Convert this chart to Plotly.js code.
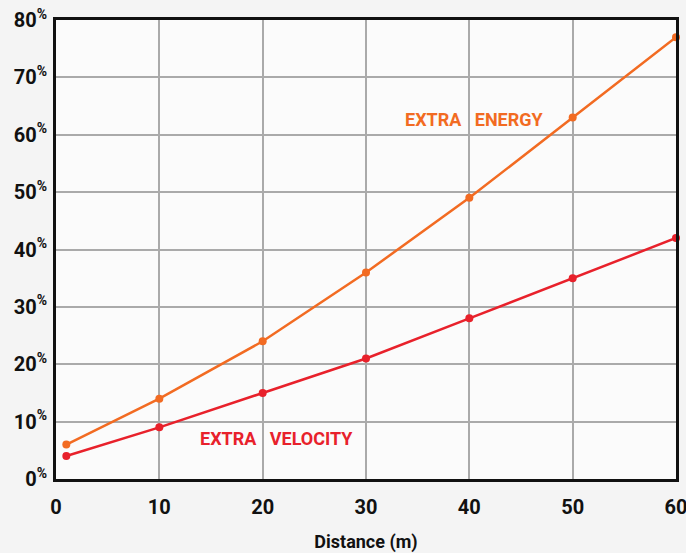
<!DOCTYPE html>
<html><head><meta charset="utf-8">
<script src="https://cdn.plot.ly/plotly-3.0.1.min.js"></script>
<style>html,body{margin:0;padding:0;background:#f4f4f4}</style>
</head><body><div id="chart" style="width:686px;height:553px"></div>
<script>
const distance = [1, 10, 20, 30, 40, 50, 60];
const extraEnergy = [6, 14, 24, 36, 49, 63, 77];
const extraVelocity = [4, 9, 15, 21, 28, 35, 42];
const yTickVals = [0, 10, 20, 30, 40, 50, 60, 70, 80];
const yTickText = yTickVals.map(v => v + '<sup>%</sup>');
const xTickVals = [0, 10, 20, 30, 40, 50, 60];

const FONT = 'Roboto, sans-serif';
const orange = '#f26b22';
const red = '#e8212b';

const data = [
  {x: distance, y: extraEnergy, mode: 'lines+markers', line: {color: orange, width: 2.5}, marker: {color: orange, size: 8}, cliponaxis: false, hoverinfo: 'skip'},
  {x: distance, y: extraVelocity, mode: 'lines+markers', line: {color: red, width: 2.5}, marker: {color: red, size: 8}, cliponaxis: false, hoverinfo: 'skip'}
];

const layout = {
  width: 686, height: 553,
  margin: {l: 56, r: 10, t: 20, b: 74},
  paper_bgcolor: '#f4f4f4',
  plot_bgcolor: '#fbfbfb',
  showlegend: false,
  font: {family: FONT, color: '#111'},
  xaxis: {
    range: [0, 60], tickvals: xTickVals, ticks: '',
    showgrid: true, gridcolor: '#aaaaaa', gridwidth: 2,
    showline: true, linecolor: '#111', linewidth: 3, mirror: true,
    zeroline: false,
    tickfont: {family: FONT, size: 20, color: '#111', weight: 'bold'},
    ticklabelstandoff: 8,
    ticklabeloverflow: 'allow',
    title: {text: '<b>Distance (m)</b>', font: {family: FONT, size: 18, color: '#111'}, standoff: 20}
  },
  yaxis: {
    range: [0, 80], tickvals: yTickVals, ticktext: yTickText, ticks: '',
    showgrid: true, gridcolor: '#aaaaaa', gridwidth: 2,
    showline: true, linecolor: '#111', linewidth: 3, mirror: true,
    zeroline: false,
    tickfont: {family: FONT, size: 20, color: '#111', weight: 'bold'},
    ticklabelstandoff: 2,
    ticklabeloverflow: 'allow'
  },
  annotations: [
    {x: 40.5, y: 62.7, xref: 'x', yref: 'y', text: '<b>EXTRA&nbsp;&nbsp;&nbsp;ENERGY</b>', showarrow: false, font: {family: FONT, size: 18, color: orange}},
    {x: 21.3, y: 7.1, xref: 'x', yref: 'y', text: '<b>EXTRA&nbsp;&nbsp;&nbsp;VELOCITY</b>', showarrow: false, font: {family: FONT, size: 18, color: red}}
  ]
};
Plotly.newPlot('chart', data, layout, {displayModeBar: false, staticPlot: true});
</script></body></html>
